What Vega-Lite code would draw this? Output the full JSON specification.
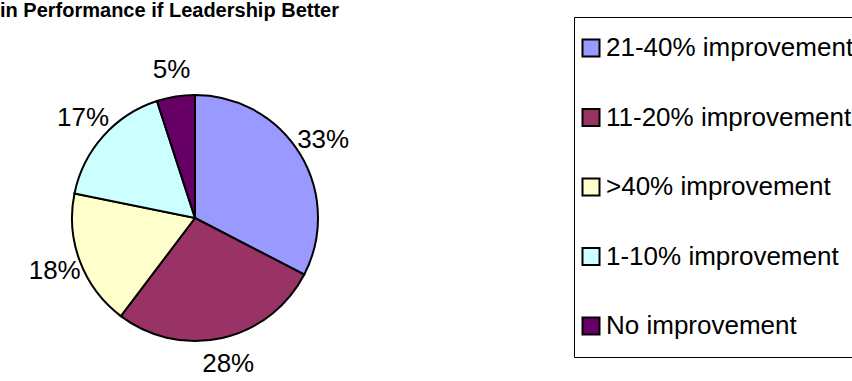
{
  "$schema": "https://vega.github.io/schema/vega-lite/v6.json",
  "autosize": "none",
  "width": 390,
  "height": 326,
  "padding": {"left": 0, "top": 55, "right": 462, "bottom": 0},
  "background": "white",
  "title": {
    "text": "in Performance if Leadership Better",
    "anchor": "start",
    "frame": "group",
    "font": "Liberation Sans",
    "fontSize": 20,
    "fontWeight": "bold",
    "color": "black",
    "offset": 0,
    "dy": 4
  },
  "data": {
    "values": [
      {"category": "21-40% improvement", "value": 32.6, "label": "33%", "order": 1},
      {"category": "11-20% improvement", "value": 27.7, "label": "28%", "order": 2},
      {"category": ">40% improvement", "value": 17.9, "label": "18%", "order": 3},
      {"category": "1-10% improvement", "value": 16.8, "label": "17%", "order": 4},
      {"category": "No improvement", "value": 5.0, "label": "5%", "order": 5}
    ]
  },
  "encoding": {
    "theta": {"field": "value", "type": "quantitative", "stack": true},
    "order": {"field": "order", "type": "quantitative"}
  },
  "layer": [
    {
      "mark": {"type": "arc", "outerRadius": 123, "stroke": "black", "strokeWidth": 2},
      "encoding": {
        "color": {
          "field": "category",
          "type": "nominal",
          "scale": {
            "domain": ["21-40% improvement", "11-20% improvement", ">40% improvement", "1-10% improvement", "No improvement"],
            "range": ["#9999FF", "#993366", "#FFFFCC", "#CCFFFF", "#660066"]
          },
          "legend": {
            "orient": "none",
            "legendX": 574,
            "legendY": -38,
            "title": null,
            "strokeColor": "black",
            "fillColor": "white",
            "padding": 18,
            "symbolOffset": -14,
            "symbolType": "square",
            "symbolSize": 289,
            "symbolStrokeColor": "black",
            "symbolStrokeWidth": 2,
            "symbolOpacity": 1,
            "labelFontSize": 26,
            "labelFont": "Liberation Sans",
            "labelColor": "black",
            "labelOffset": 2,
            "labelLimit": 0,
            "rowPadding": 43.5
          }
        }
      }
    },
    {
      "mark": {"type": "text", "radius": 150, "fontSize": 26, "font": "Liberation Sans", "color": "black"},
      "encoding": {
        "detail": {"field": "category", "type": "nominal"},
        "text": {"field": "label", "type": "nominal"}
      }
    }
  ]
}
